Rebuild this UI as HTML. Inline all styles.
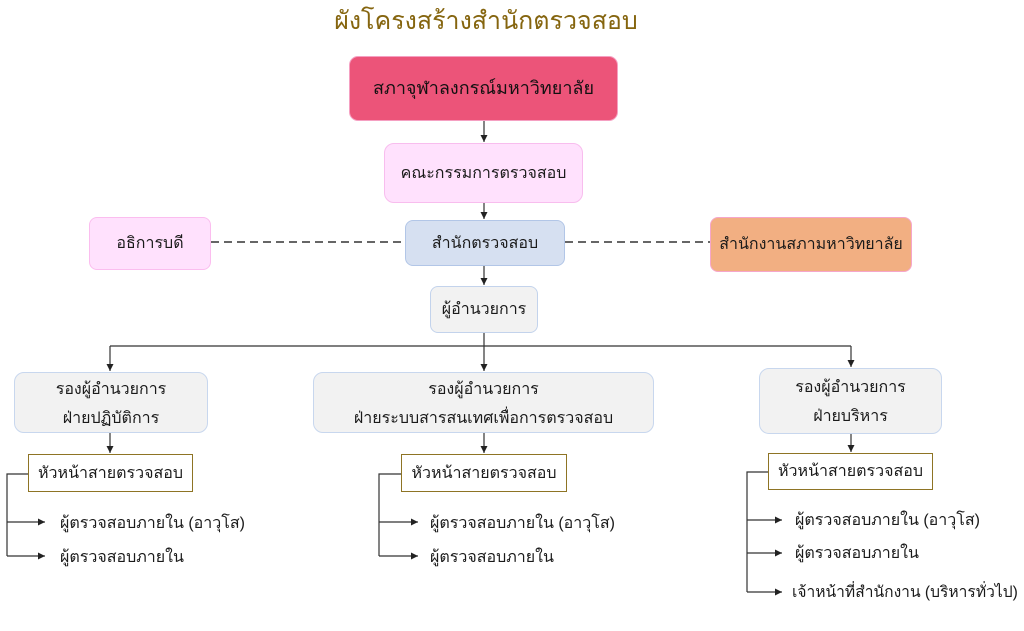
<!DOCTYPE html>
<html>
<head>
<meta charset="utf-8">
<style>
  html,body{margin:0;padding:0;background:#fff;}
  body{width:1024px;height:631px;position:relative;overflow:hidden;
    font-family:"Liberation Sans","DejaVu Sans",sans-serif;color:#1a1a1a;}
  .t{position:absolute;left:0;top:5px;width:972px;text-align:center;font-size:25px;line-height:32px;color:#85650F;}
  .b{position:absolute;box-sizing:border-box;display:flex;align-items:center;justify-content:center;
     text-align:center;font-size:16px;line-height:29px;}
  .lbl{position:absolute;font-size:16px;line-height:20px;white-space:nowrap;}
  svg{position:absolute;left:0;top:0;}
</style>
</head>
<body>
<div class="t">ผังโครงสร้างสำนักตรวจสอบ</div>

<svg width="1024" height="631" viewBox="0 0 1024 631">
  <defs>
    <marker id="a" markerWidth="8" markerHeight="8" refX="7" refY="4" orient="auto" markerUnits="userSpaceOnUse">
      <path d="M0,0.5 L7,4 L0,7.5 Z" fill="#222"/>
    </marker>
  </defs>
  <g stroke="#333" stroke-width="1.2" fill="none">
    <line x1="484" y1="121" x2="484" y2="142" marker-end="url(#a)"/>
    <line x1="484" y1="203" x2="484" y2="219" marker-end="url(#a)"/>
    <line x1="484" y1="266" x2="484" y2="285" marker-end="url(#a)"/>
    <line x1="484" y1="333" x2="484" y2="346"/>
    <line x1="110" y1="346" x2="851" y2="346"/>
    <line x1="110" y1="346" x2="110" y2="371" marker-end="url(#a)"/>
    <line x1="484" y1="346" x2="484" y2="371" marker-end="url(#a)"/>
    <line x1="851" y1="346" x2="851" y2="367" marker-end="url(#a)"/>
    <line x1="110" y1="433" x2="110" y2="453" marker-end="url(#a)"/>
    <line x1="484" y1="433" x2="484" y2="453" marker-end="url(#a)"/>
    <line x1="851" y1="434" x2="851" y2="452" marker-end="url(#a)"/>

    <polyline points="28,474 7,474 7,556"/>
    <line x1="7" y1="522" x2="45" y2="522" marker-end="url(#a)"/>
    <line x1="7" y1="556" x2="45" y2="556" marker-end="url(#a)"/>

    <polyline points="401,474 379,474 379,556"/>
    <line x1="379" y1="522" x2="418" y2="522" marker-end="url(#a)"/>
    <line x1="379" y1="556" x2="418" y2="556" marker-end="url(#a)"/>

    <polyline points="768,472 747,472 747,592"/>
    <line x1="747" y1="520" x2="782" y2="520" marker-end="url(#a)"/>
    <line x1="747" y1="553" x2="782" y2="553" marker-end="url(#a)"/>
    <line x1="747" y1="592" x2="782" y2="592" marker-end="url(#a)"/>
  </g>
  <g stroke="#333" stroke-width="1.6" stroke-dasharray="8,5">
    <line x1="211" y1="242" x2="405" y2="242"/>
    <line x1="565" y1="242" x2="710" y2="242"/>
  </g>
</svg>

<div class="b" style="left:349px;top:56px;width:269px;height:65px;background:#EC5479;border:1px solid #F5A0C2;border-radius:9px;font-size:18px;color:#111;">สภาจุฬาลงกรณ์มหาวิทยาลัย</div>
<div class="b" style="left:384px;top:143px;width:199px;height:60px;background:#FFE1FD;border:1px solid #F8BDEE;border-radius:10px;">คณะกรรมการตรวจสอบ</div>
<div class="b" style="left:405px;top:220px;width:160px;height:46px;background:#D6E0F1;border:1px solid #B2C6E7;border-radius:8px;">สำนักตรวจสอบ</div>
<div class="b" style="left:89px;top:217px;width:122px;height:53px;background:#FFE1FD;border:1px solid #FBBDEF;border-radius:8px;">อธิการบดี</div>
<div class="b" style="left:710px;top:217px;width:202px;height:55px;background:#F2AF82;border:1px solid #F6A6CA;border-radius:8px;">สำนักงานสภามหาวิทยาลัย</div>
<div class="b" style="left:430px;top:286px;width:108px;height:47px;background:#F2F2F2;border:1px solid #C3D3EC;border-radius:8px;">ผู้อำนวยการ</div>

<div class="b" style="left:14px;top:372px;width:194px;height:61px;background:#F2F2F2;border:1px solid #C8D7EE;border-radius:10px;padding-top:2px;">รองผู้อำนวยการ<br>ฝ่ายปฏิบัติการ</div>
<div class="b" style="left:313px;top:372px;width:341px;height:61px;background:#F2F2F2;border:1px solid #C8D7EE;border-radius:10px;padding-top:2px;">รองผู้อำนวยการ<br>ฝ่ายระบบสารสนเทศเพื่อการตรวจสอบ</div>
<div class="b" style="left:759px;top:368px;width:183px;height:66px;background:#F2F2F2;border:1px solid #C8D7EE;border-radius:10px;padding-top:2px;">รองผู้อำนวยการ<br>ฝ่ายบริหาร</div>

<div class="b" style="left:28px;top:454px;width:165px;height:38px;background:#fff;border:1px solid #8E7424;">หัวหน้าสายตรวจสอบ</div>
<div class="b" style="left:401px;top:454px;width:166px;height:38px;background:#fff;border:1px solid #8E7424;">หัวหน้าสายตรวจสอบ</div>
<div class="b" style="left:768px;top:453px;width:165px;height:37px;background:#fff;border:1px solid #8E7424;">หัวหน้าสายตรวจสอบ</div>

<div class="lbl" style="left:60px;top:514px;">ผู้ตรวจสอบภายใน (อาวุโส)</div>
<div class="lbl" style="left:60px;top:548px;">ผู้ตรวจสอบภายใน</div>
<div class="lbl" style="left:430px;top:514px;">ผู้ตรวจสอบภายใน (อาวุโส)</div>
<div class="lbl" style="left:430px;top:548px;">ผู้ตรวจสอบภายใน</div>
<div class="lbl" style="left:795px;top:511px;">ผู้ตรวจสอบภายใน (อาวุโส)</div>
<div class="lbl" style="left:795px;top:544px;">ผู้ตรวจสอบภายใน</div>
<div class="lbl" style="left:792px;top:583px;font-size:15.6px;">เจ้าหน้าที่สำนักงาน (บริหารทั่วไป)</div>
</body>
</html>
